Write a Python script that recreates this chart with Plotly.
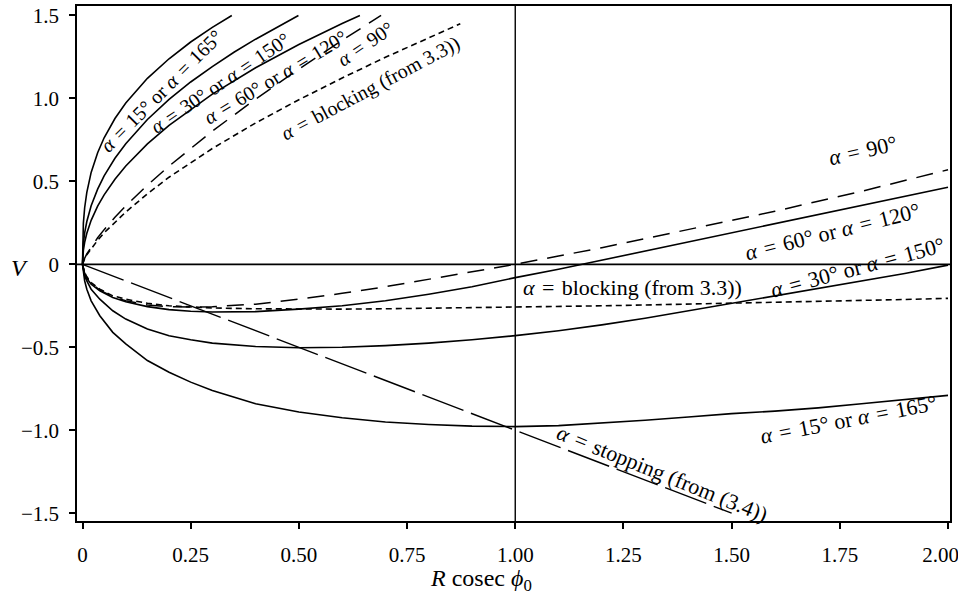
import plotly.graph_objects as go

# ---------------- data ----------------
# upper branches (V > 0)
x_up15 = [0, 0.002, 0.005, 0.01, 0.02, 0.035, 0.05, 0.075, 0.1, 0.15, 0.2, 0.25, 0.3, 0.345]
v_up15 = [0, 0.247, 0.341, 0.434, 0.554, 0.673, 0.763, 0.879, 0.972, 1.121, 1.239, 1.34, 1.428, 1.5]

x_up30 = [0, 0.002, 0.005, 0.01, 0.02, 0.035, 0.05, 0.075, 0.1, 0.15, 0.2, 0.25, 0.3, 0.35, 0.4, 0.45, 0.499]
v_up30 = [0, 0.125, 0.189, 0.258, 0.353, 0.453, 0.533, 0.639, 0.727, 0.873, 0.994, 1.099, 1.192, 1.278, 1.357, 1.431, 1.5]

x_up60 = [0, 0.002, 0.005, 0.01, 0.02, 0.035, 0.05, 0.075, 0.1, 0.15, 0.2, 0.3, 0.4, 0.5, 0.6, 0.641]
v_up60 = [0, 0.084, 0.133, 0.187, 0.265, 0.351, 0.419, 0.513, 0.593, 0.726, 0.838, 1.026, 1.185, 1.325, 1.452, 1.5]

x_up90 = [0, 0.002, 0.005, 0.01, 0.02, 0.035, 0.05, 0.075, 0.1, 0.15, 0.2, 0.3, 0.4, 0.5, 0.6, 0.69]
v_up90 = [0, 0.019, 0.037, 0.063, 0.105, 0.16, 0.209, 0.284, 0.352, 0.477, 0.592, 0.803, 0.996, 1.177, 1.35, 1.5]

x_upblk = [0, 0.002, 0.005, 0.01, 0.02, 0.035, 0.05, 0.075, 0.1, 0.15, 0.2, 0.3, 0.4, 0.5, 0.6, 0.7, 0.8, 0.873]
v_upblk = [0, 0.018, 0.035, 0.058, 0.095, 0.145, 0.19, 0.255, 0.315, 0.425, 0.525, 0.698, 0.852, 0.992, 1.123, 1.248, 1.366, 1.45]

# lower branches (V < 0)
x_lo = [0, 0.005, 0.01, 0.02, 0.04, 0.07, 0.1, 0.15, 0.2, 0.25, 0.3, 0.4, 0.5, 0.6, 0.7,
        0.8, 0.9, 1.0, 1.1, 1.2, 1.3, 1.4, 1.5, 1.6, 1.7, 1.8, 1.9, 2.0]
v_lo15 = [0, -0.1, -0.15, -0.22, -0.31, -0.41, -0.48, -0.58, -0.65, -0.71, -0.76, -0.84, -0.89, -0.925, -0.95,
          -0.965, -0.975, -0.978, -0.972, -0.958, -0.94, -0.92, -0.9, -0.885, -0.865, -0.84, -0.815, -0.79]
v_lo30 = [0, -0.07, -0.10, -0.15, -0.21, -0.28, -0.33, -0.39, -0.43, -0.455, -0.475, -0.495, -0.503, -0.5, -0.49,
          -0.475, -0.455, -0.43, -0.40, -0.365, -0.325, -0.28, -0.235, -0.19, -0.145, -0.10, -0.055, -0.005]
v_lo60 = [0, -0.06, -0.085, -0.12, -0.16, -0.2, -0.225, -0.255, -0.273, -0.283, -0.287, -0.285, -0.27, -0.25, -0.22,
          -0.18, -0.135, -0.08, -0.03, 0.025, 0.08, 0.135, 0.19, 0.245, 0.3, 0.355, 0.41, 0.465]
v_lo90 = [0, -0.055, -0.08, -0.115, -0.155, -0.195, -0.22, -0.245, -0.255, -0.258, -0.255, -0.24, -0.21, -0.175, -0.135,
          -0.09, -0.045, 0.0, 0.05, 0.1, 0.155, 0.21, 0.265, 0.32, 0.38, 0.44, 0.505, 0.57]
v_loblk = [0, -0.05, -0.075, -0.11, -0.15, -0.19, -0.21, -0.235, -0.25, -0.258, -0.263, -0.268, -0.27, -0.27, -0.268,
           -0.265, -0.262, -0.258, -0.254, -0.25, -0.245, -0.24, -0.235, -0.23, -0.224, -0.218, -0.212, -0.205]

# stopping line (from (3.4))
x_stop = [0, 1.5]
v_stop = [0, -1.5]

x_ticks = [0, 0.25, 0.5, 0.75, 1.0, 1.25, 1.5, 1.75, 2.0]
x_ticklabels = ["0", "0.25", "0.50", "0.75", "1.00", "1.25", "1.50", "1.75", "2.00\u2002\u2009"]
y_ticks = [1.5, 1.0, 0.5, 0, -0.5, -1.0, -1.5]
y_ticklabels = ["1.5", "1.0", "0.5", "0", "\u22120.5", "\u22121.0", "\u22121.5"]

# ---------------- figure ----------------
SERIF = "Liberation Serif"
SOLID = dict(color="black", width=1.6)
LONG = dict(color="black", width=1.5, dash="17px,10px")
SHORT = dict(color="black", width=1.6, dash="6px,4px")
STOP = dict(color="black", width=1.4, dash="44px,8px")

fig = go.Figure()

def add(x, y, line):
    fig.add_trace(go.Scatter(x=x, y=y, mode="lines", line=line, hoverinfo="skip", showlegend=False))

add(x_up15, v_up15, SOLID)
add(x_up30, v_up30, SOLID)
add(x_up60, v_up60, SOLID)
add(x_up90, v_up90, LONG)
add(x_upblk, v_upblk, SHORT)
add(x_lo, v_lo15, SOLID)
add(x_lo, v_lo30, SOLID)
add(x_lo, v_lo60, SOLID)
add(x_lo, v_lo90, LONG)
add(x_lo, v_loblk, SHORT)
add(x_stop, v_stop, STOP)

# reference lines at V = 0 and x = 1
fig.add_shape(type="line", xref="paper", x0=0, x1=1, yref="y", y0=0, y1=0,
              line=dict(color="black", width=1.6))
fig.add_shape(type="line", xref="x", x0=1.0, x1=1.0, yref="paper", y0=0, y1=1,
              line=dict(color="black", width=1.4))

A = "<i>\u03b1</i>"
EQ = "\u2004=\u2004"
labels = [
    # (x, V, text, angle, size)
    (0.182, 1.045, A + EQ + "15\u00b0 or " + A + EQ + "165\u00b0", -45, 20),
    (0.318, 1.09, A + EQ + "30\u00b0 or " + A + EQ + "150\u00b0", -34, 20),
    (0.446, 1.13, A + EQ + "60\u00b0 or " + A + EQ + "120\u00b0", -31, 20),
    (0.653, 1.327, A + EQ + "90\u00b0", -34, 20),
    (0.665, 1.06, A + EQ + "blocking (from 3.3))", -28, 20),
    (1.803, 0.688, A + EQ + "90\u00b0", -13, 22),
    (1.734, 0.195, A + EQ + "60\u00b0 or " + A + EQ + "120\u00b0", -14, 22),
    (1.272, -0.138, A + EQ + "blocking (from 3.3))", 0, 22),
    (1.79, -0.02, A + EQ + "30\u00b0 or " + A + EQ + "150\u00b0", -15, 22),
    (1.769, -0.938, A + EQ + "15\u00b0 or " + A + EQ + "165\u00b0", -11, 22),
    (1.341, -1.258, A + EQ + "stopping (from (3.4))", 22, 22),
]
for (lx, ly, txt, ang, sz) in labels:
    fig.add_annotation(x=lx, y=ly, xref="x", yref="y", text=txt, textangle=ang,
                       showarrow=False, font=dict(family=SERIF, size=sz, color="black"))

# axis titles
fig.add_annotation(x=-0.0653, y=0.491, xref="paper", yref="paper", text="<i>V</i>", showarrow=False,
                   xanchor="center", yanchor="middle",
                   font=dict(family=SERIF, size=24, color="black"))
fig.add_annotation(x=0.921, y=-0.1146, xref="x", yref="paper",
                   text="<i>R</i> cosec <i>\u03d5</i><sub>0</sub>", showarrow=False,
                   xanchor="center", yanchor="middle",
                   font=dict(family=SERIF, size=24, color="black"))

TICKFONT = dict(family=SERIF, size=21, color="black")
fig.update_layout(
    width=958, height=602,
    margin=dict(l=77, r=8, t=6, b=81),
    paper_bgcolor="white", plot_bgcolor="white",
    showlegend=False,
    font=dict(family=SERIF, size=20, color="black"),
    xaxis=dict(range=[-0.0127, 2.0046], tickmode="array", tickvals=x_ticks, ticktext=x_ticklabels,
               ticks="outside", ticklen=6, tickwidth=1.5, tickcolor="black", tickfont=TICKFONT,
               showline=True, linecolor="black", linewidth=1.6, mirror=True, automargin=False,
               showgrid=False, zeroline=False, ticklabelstandoff=8, ticklabeloverflow="allow"),
    yaxis=dict(range=[-1.547, 1.557], tickmode="array", tickvals=y_ticks, ticktext=y_ticklabels,
               ticks="outside", ticklen=6, tickwidth=1.5, tickcolor="black", tickfont=TICKFONT,
               showline=True, linecolor="black", linewidth=1.6, mirror=True, automargin=False,
               showgrid=False, zeroline=False, ticklabelstandoff=6, ticklabeloverflow="allow"),
)

fig.write_html("out.html", config={"displayModeBar": False},
               post_script="document.body.style.margin='0';document.body.style.overflow='hidden';")
